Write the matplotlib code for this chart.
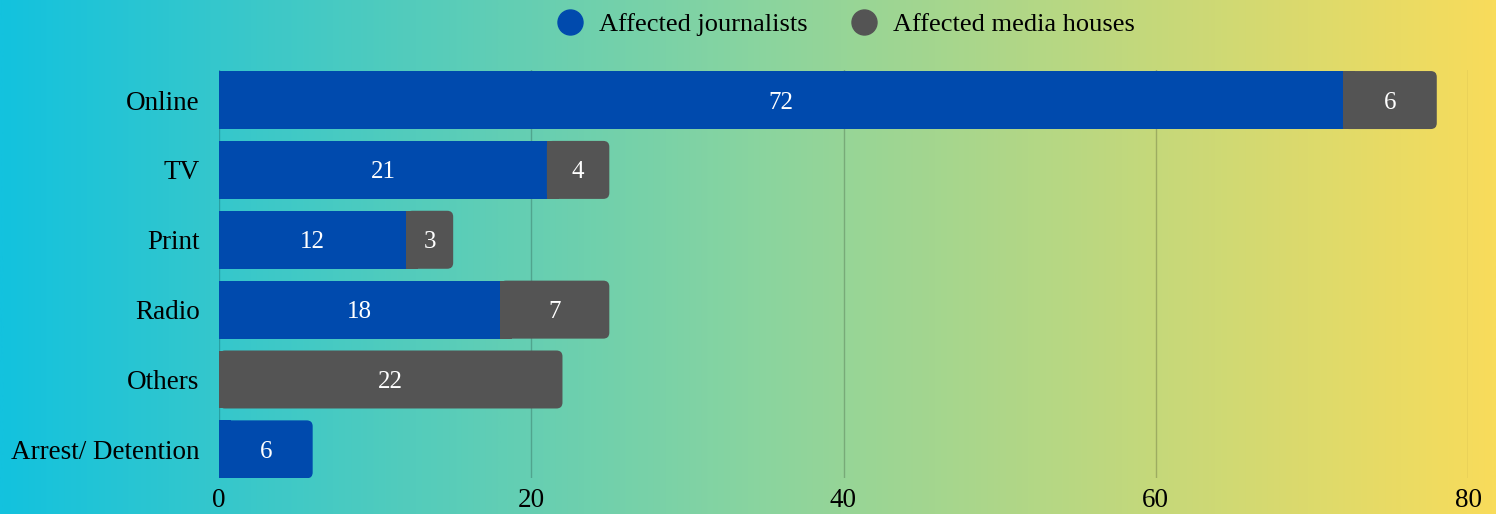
import matplotlib.pyplot as plt
import numpy as np
from matplotlib.colors import LinearSegmentedColormap
from matplotlib.patches import FancyBboxPatch, Rectangle
from matplotlib.lines import Line2D

categories = ['Online', 'TV', 'Print', 'Radio', 'Others', 'Arrest/ Detention']
journalists = [72, 21, 12, 18, 0, 6]
media_houses = [6, 4, 3, 7, 22, 0]
series_names = ['Affected journalists', 'Affected media houses']
colors = ['#004aad', '#545454']

plt.rcParams['font.family'] = ['Liberation Serif', 'DejaVu Serif']

fig = plt.figure(figsize=(14.96, 5.14), dpi=100)

# gradient background
bg = fig.add_axes([0, 0, 1, 1], zorder=-10)
cmap = LinearSegmentedColormap.from_list('bg', ['#13c2de', '#88d4a0', '#f8dc5b'])
bg.imshow(np.linspace(0, 1, 512).reshape(1, -1), aspect='auto', cmap=cmap, extent=[0, 1, 0, 1])
bg.axis('off')

ax = fig.add_axes([219/1496, 1 - 478/514, (1468 - 219)/1496, (478 - 70)/514])
ax.patch.set_alpha(0)
ax.set_xlim(0, 80)
ax.set_ylim(5.41, -0.43)

h = 0.83
px_x = (1468 - 219) / 80.0
px_y = 70.0
r = 6 / px_x  # rounding in x data units
aspect = (6 / px_y) / r

y = np.arange(len(categories))
for i in range(len(categories)):
    segs = [(0, journalists[i], colors[0]),
            (journalists[i], media_houses[i], colors[1])]
    segs = [s for s in segs if s[1] > 0]
    for k, (left, w, c) in enumerate(segs):
        if k == len(segs) - 1:
            p = FancyBboxPatch((left, y[i] - h/2), w, h,
                               boxstyle='round,pad=0,rounding_size=%f' % r,
                               mutation_aspect=aspect, fc=c, ec='none', zorder=3)
            ax.add_patch(p)
            ax.add_patch(Rectangle((left, y[i] - h/2), min(w, 2*r), h, fc=c, ec='none',
                                   lw=0, zorder=3))
        else:
            ax.barh(y[i], w, left=left, height=h, color=c, lw=0, zorder=3)
        ax.text(left + w/2, y[i], str(w), ha='center', va='center_baseline', color='white',
                fontsize=18, zorder=4)

ax.set_yticks(y)
ax.set_yticklabels(categories, fontsize=19.5)
ax.set_xticks([0, 20, 40, 60, 80])
ax.tick_params(axis='both', length=0, labelsize=19.5)
ax.tick_params(axis='y', pad=14)
ax.tick_params(axis='x', pad=7)
ax.grid(axis='x', color='#000000', alpha=0.2, linewidth=1, zorder=0)
ax.set_axisbelow(True)
for s in ax.spines.values():
    s.set_visible(False)

handles = [Line2D([], [], marker='o', ls='none', color=c, markersize=18) for c in colors]
fig.legend(handles, series_names, loc='center', bbox_to_anchor=(0.561, 1 - 24/514),
           ncol=2, frameon=False, fontsize=19, handletextpad=0.1, columnspacing=1.1)

fig.savefig('out.png', dpi=100)
